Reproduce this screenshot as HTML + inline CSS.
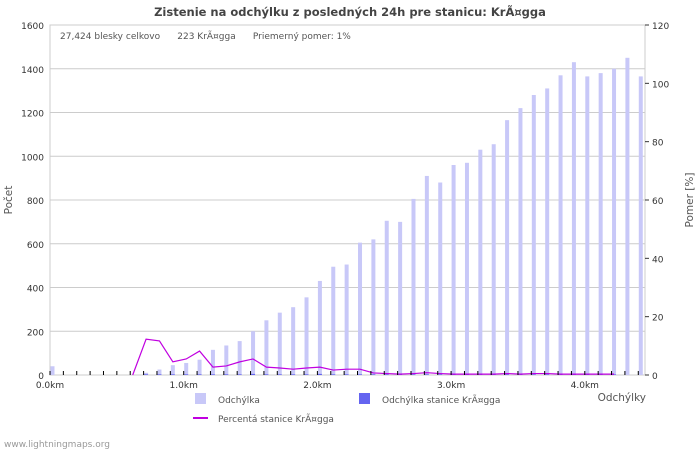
<!DOCTYPE html>
<html><head><meta charset="utf-8"><style>
body{margin:0;background:#fff;font-family:"DejaVu Sans","Liberation Sans",sans-serif;}
svg text{font-family:"DejaVu Sans","Liberation Sans",sans-serif;}
</style></head><body>
<svg id="c" width="700" height="450" viewBox="0 0 700 450">
<text x="350" y="16" text-anchor="middle" font-size="11.5" font-weight="bold" fill="#444">Zistenie na odchýlku z posledných 24h pre stanicu: KrÃ¤gga</text>
<rect x="50" y="25" width="595" height="350" fill="none" stroke="#ccc"/>
<text x="60" y="39" font-size="9" fill="#555">27,424 blesky celkovo&#160;&#160;&#160;&#160;&#160;&#160;223 KrÃ¤gga&#160;&#160;&#160;&#160;&#160;&#160;Priemerný pomer: 1%</text>
<g id="grid"></g><g id="bars"></g><g id="axes"></g>
<text x="12" y="200" font-size="10.5" fill="#555" transform="rotate(-90 12 200)" text-anchor="middle">Počet</text>
<text x="693" y="200" font-size="10.5" fill="#555" transform="rotate(-90 693 200)" text-anchor="middle">Pomer [%]</text>
<text x="646" y="401" font-size="10.5" fill="#555" text-anchor="end">Odchýlky</text>
<rect x="195" y="393" width="11" height="11" fill="#c8c8f8"/>
<text x="218" y="403" font-size="9" fill="#555">Odchýlka</text>
<rect x="359" y="393" width="11" height="11" fill="#6464f0"/>
<text x="382" y="403" font-size="9" fill="#555">Odchýlka stanice KrÃ¤gga</text>
<line x1="193" y1="418" x2="208" y2="418" stroke="#c000e0" stroke-width="2"/>
<text x="218" y="422" font-size="9" fill="#555">Percentá stanice KrÃ¤gga</text>
<text x="4" y="447" font-size="9" fill="#999">www.lightningmaps.org</text>
</svg>
<script>
const counts=[40,0,0,0,0,0,0,10,25,45,55,70,115,135,155,200,250,285,310,355,430,495,505,605,620,705,700,805,910,880,960,970,1030,1055,1165,1220,1280,1310,1370,1430,1365,1380,1400,1450,1365];
const station=[0,0,0,0,0,0,0,3,3,3,3,3,3,3,3,5,3,3,3,3,5,3,3,3,3,3,3,3,3,3,3,3,3,3,3,3,3,3,3,3,3,3,3,0,0];
const percent=[null,null,null,null,null,null,0,12.3,11.7,4.5,5.5,8.2,2.7,3.1,4.5,5.5,2.7,2.4,2,2.4,2.7,1.7,2,2,0.7,0.5,0.3,0.5,0.8,0.5,0.3,0.3,0.3,0.3,0.5,0.3,0.5,0.5,0.3,0.3,0.3,0.3,0.3];
const yTicks=[0,200,400,600,800,1000,1200,1400,1600];
const y2Ticks=[0,20,40,60,80,100,120];
const xTicks=[0,1,2,3,4];
const xLabels=["0.0km","1.0km","2.0km","3.0km","4.0km"];
const NS="http://www.w3.org/2000/svg";
const X=i=>50+13.37*i, Xkm=k=>50+133.7*k, Y=v=>375-v*350/1600, Y2=v=>375-v*350/120;
function mk(t,a,p){const e=document.createElementNS(NS,t);for(const k in a)e.setAttribute(k,a[k]);document.getElementById(p).appendChild(e);return e;}
yTicks.forEach((v,i)=>{
 if(v>0&&v<1600){const g=mk('line',{x1:50,x2:645,y1:Y(v),y2:Y(v),stroke:'#ccc'},'grid');
 
 }
 const t=mk('text',{x:44,y:Y(v)+4,'text-anchor':'end','font-size':9,fill:'#333'},'axes');t.textContent=v;
 
 
});
y2Ticks.forEach(v=>{
 const t=mk('text',{x:652,y:Y2(v)+4,'font-size':9,fill:'#333'},'axes');t.textContent=v;
 
 
 mk('line',{x1:645,x2:649,y1:Y2(v),y2:Y2(v),stroke:'#333'},'axes');
});
for(let i=0;i<45;i++){const l=mk('line',{x1:X(i),x2:X(i),y1:371,y2:375,stroke:'#000'},'axes');
 
 }
xTicks.forEach((k,i)=>{const t=mk('text',{x:Xkm(k),y:388,'text-anchor':'middle','font-size':9,fill:'#333'},'axes');t.textContent=xLabels[i];
 
 });
counts.forEach((v,i)=>{const b=mk('rect',{x:X(i)+0.5,y:Y(v),width:4,height:375-Y(v),fill:'#c8c8f8'},'bars');
 
 });
station.forEach((v,i)=>{if(v>0){const b=mk('rect',{x:X(i)+0.5,y:Y(v),width:4,height:375-Y(v),fill:'#6464f0'},'bars');
 
 }});
let d='';percent.forEach((v,i)=>{if(v!==null)d+=(d?'L':'M')+(X(i)+2.5)+','+Y2(v);});
const p=mk('path',{d:d,fill:'none',stroke:'#c000e0','stroke-width':1.2},'bars');


</script>
</body></html>
